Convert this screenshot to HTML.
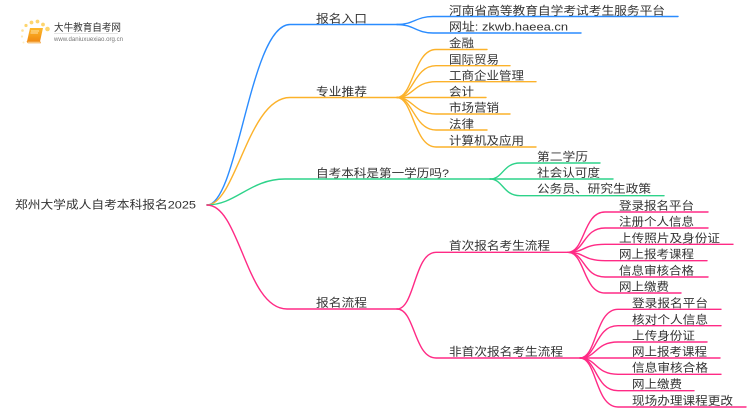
<!DOCTYPE html>
<html lang="zh">
<head>
<meta charset="utf-8">
<title>郑州大学成人自考本科报名2025</title>
<style>
html,body{margin:0;padding:0;background:#fff;width:750px;height:410px;overflow:hidden}
svg{display:block}
text{font-family:"Liberation Sans","Noto Sans CJK SC",sans-serif;font-size:11.2px;fill:#333}
.l{fill:none;stroke-width:1.4;stroke-linecap:round}
.b{stroke:#2b8cff}.o{stroke:#fcb22c}.g{stroke:#2ed38a}.p{stroke:#ff2a85}
</style>
</head>
<body>
<svg width="750" height="410" viewBox="0 0 750 410" xmlns="http://www.w3.org/2000/svg">
<defs>
<linearGradient id="bk" x1="0" y1="0" x2="0" y2="1"><stop offset="0" stop-color="#fdb92c"/><stop offset="1" stop-color="#f08a10"/></linearGradient>
<filter id="s" x="-5%" y="-5%" width="110%" height="110%"><feGaussianBlur stdDeviation="0.3"/></filter>
</defs>

<!-- logo -->
<g filter="url(#s)">
<g fill="#fdd56e">
<circle cx="47.5" cy="29" r="2.3"/><circle cx="43" cy="24.5" r="1.9"/><circle cx="37.5" cy="21.5" r="1.9"/><circle cx="31.5" cy="22.5" r="1.9"/><circle cx="26" cy="25.5" r="1.6"/>
<circle cx="22.5" cy="30.5" r="1.3" opacity=".7"/><circle cx="22" cy="36.5" r="1.1" opacity=".5"/><circle cx="23.5" cy="42.5" r="1" opacity=".4"/>
</g>
<path d="M30 28H43L40 41.5H27Z" fill="url(#bk)"/>
<path d="M27 41.5H40L40.5 43H28Z" fill="#fbd9a0" stroke="#ee8c14" stroke-width=".6"/>
<path d="M31 31H39M30.5 33H38" stroke="#fff3cf" stroke-width=".7"/>
<text x="54" y="31" style="font-size:10px" textLength="67" lengthAdjust="spacingAndGlyphs">大牛教育自考网</text>
<path d="M54 33.5H118" stroke="#ccc" stroke-width=".6"/>
<text x="54" y="41" style="font-size:6px;fill:#777" textLength="69" lengthAdjust="spacingAndGlyphs">www.daniuxuexiao.org.cn</text>
</g>

<g filter="url(#s)">
<!-- root branches -->
<path class="l b" d="M207 205C238 205 250 24.5 290 24.5H397"/>
<path class="l o" d="M207 205C236 205 248 97.5 290 97.5H397"/>
<path class="l g" d="M207 205C236 205 250 179 285 179H490"/>
<path class="l p" d="M207 205C240 205 246 309 287 309H397"/>

<!-- branch 1 -->
<path class="l b" d="M397 24.5C414 24.5 416 16.5 433 16.5H678"/>
<path class="l b" d="M397 24.5C414 24.5 416 33 433 33H581"/>

<!-- branch 2 -->
<path class="l o" d="M397 97.5C413 97.5 414 49.5 436 49.5H487"/>
<path class="l o" d="M397 97.5C413 97.5 414 65.7 436 65.7H510"/>
<path class="l o" d="M397 97.5C413 97.5 414 81.7 436 81.7H536"/>
<path class="l o" d="M397 97.5H486"/>
<path class="l o" d="M397 97.5C413 97.5 414 114 436 114H510"/>
<path class="l o" d="M397 97.5C413 97.5 414 130 436 130H487"/>
<path class="l o" d="M397 97.5C413 97.5 414 147 436 147H536"/>

<!-- branch 3 -->
<path class="l g" d="M490 179C503 179 503 163 520 163H600"/>
<path class="l g" d="M490 179H613"/>
<path class="l g" d="M490 179C503 179 503 195.7 520 195.7H664"/>

<!-- branch 4 -->
<path class="l p" d="M397 309C415 309 414 252.3 436 252.3H568"/>
<path class="l p" d="M397 309C415 309 414 358 436 358H580"/>

<path class="l p" d="M568 252.3C585 252.3 583 212 605 212H708"/>
<path class="l p" d="M568 252.3C585 252.3 583 228 605 228H708"/>
<path class="l p" d="M568 252.3C585 252.3 583 244.3 605 244.3H733"/>
<path class="l p" d="M568 252.3C585 252.3 583 260.7 605 260.7H707"/>
<path class="l p" d="M568 252.3C585 252.3 583 277 605 277H708"/>
<path class="l p" d="M568 252.3C585 252.3 583 293 605 293H681"/>

<path class="l p" d="M580 358C597 358 595 309.3 618 309.3H721"/>
<path class="l p" d="M580 358C597 358 595 325.7 618 325.7H721"/>
<path class="l p" d="M580 358C597 358 595 342 618 342H707"/>
<path class="l p" d="M580 358H720"/>
<path class="l p" d="M580 358C597 358 595 374.3 618 374.3H721"/>
<path class="l p" d="M580 358C597 358 595 390.7 618 390.7H694"/>
<path class="l p" d="M580 358C597 358 595 407 618 407H746"/>

<!-- labels -->
<g transform="translate(0,-0.6)">
<text x="15" y="209" textLength="181" lengthAdjust="spacingAndGlyphs">郑州大学成人自考本科报名2025</text>

<text x="316" y="23" textLength="51" lengthAdjust="spacingAndGlyphs">报名入口</text>
<text x="316" y="96" textLength="51" lengthAdjust="spacingAndGlyphs">专业推荐</text>
<text x="316" y="177.5" textLength="133" lengthAdjust="spacingAndGlyphs">自考本科是第一学历吗?</text>
<text x="316" y="307" textLength="51" lengthAdjust="spacingAndGlyphs">报名流程</text>

<text x="449" y="15" textLength="216" lengthAdjust="spacingAndGlyphs">河南省高等教育自学考试考生服务平台</text>
<text x="449" y="31" textLength="119" lengthAdjust="spacingAndGlyphs">网址: zkwb.haeea.cn</text>

<text x="449" y="47.5" textLength="25" lengthAdjust="spacingAndGlyphs">金融</text>
<text x="449" y="64" textLength="50" lengthAdjust="spacingAndGlyphs">国际贸易</text>
<text x="449" y="80" textLength="75" lengthAdjust="spacingAndGlyphs">工商企业管理</text>
<text x="449" y="96" textLength="25" lengthAdjust="spacingAndGlyphs">会计</text>
<text x="449" y="112" textLength="50" lengthAdjust="spacingAndGlyphs">市场营销</text>
<text x="449" y="128.5" textLength="25" lengthAdjust="spacingAndGlyphs">法律</text>
<text x="449" y="145" textLength="75" lengthAdjust="spacingAndGlyphs">计算机及应用</text>

<text x="537" y="161" textLength="51" lengthAdjust="spacingAndGlyphs">第二学历</text>
<text x="537" y="177" textLength="63" lengthAdjust="spacingAndGlyphs">社会认可度</text>
<text x="537" y="193" textLength="114" lengthAdjust="spacingAndGlyphs">公务员、研究生政策</text>

<text x="449" y="250" textLength="101" lengthAdjust="spacingAndGlyphs">首次报名考生流程</text>
<text x="449" y="356" textLength="114" lengthAdjust="spacingAndGlyphs">非首次报名考生流程</text>

<text x="619" y="210" textLength="75" lengthAdjust="spacingAndGlyphs">登录报名平台</text>
<text x="619" y="226" textLength="75" lengthAdjust="spacingAndGlyphs">注册个人信息</text>
<text x="619" y="242.5" textLength="101" lengthAdjust="spacingAndGlyphs">上传照片及身份证</text>
<text x="619" y="258.5" textLength="75" lengthAdjust="spacingAndGlyphs">网上报考课程</text>
<text x="619" y="275" textLength="75" lengthAdjust="spacingAndGlyphs">信息审核合格</text>
<text x="619" y="291" textLength="50" lengthAdjust="spacingAndGlyphs">网上缴费</text>

<text x="632" y="307.5" textLength="76" lengthAdjust="spacingAndGlyphs">登录报名平台</text>
<text x="632" y="324" textLength="76" lengthAdjust="spacingAndGlyphs">核对个人信息</text>
<text x="632" y="340" textLength="63" lengthAdjust="spacingAndGlyphs">上传身份证</text>
<text x="632" y="356" textLength="75" lengthAdjust="spacingAndGlyphs">网上报考课程</text>
<text x="632" y="372" textLength="76" lengthAdjust="spacingAndGlyphs">信息审核合格</text>
<text x="632" y="388.5" textLength="50" lengthAdjust="spacingAndGlyphs">网上缴费</text>
<text x="632" y="405" textLength="101" lengthAdjust="spacingAndGlyphs">现场办理课程更改</text>
</g>
</g>
</svg>
</body>
</html>
